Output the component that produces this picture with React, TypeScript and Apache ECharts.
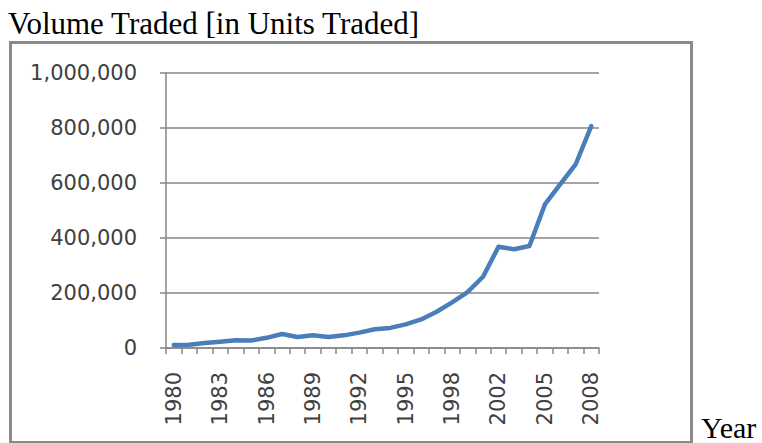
import React, { useEffect, useRef } from "react";
import * as echarts from "echarts";

const years: string[] = [
  "1980", "1981", "1982", "1983", "1984", "1985", "1986", "1987", "1988", "1989",
  "1990", "1991", "1992", "1993", "1994", "1995", "1996", "1997", "1998", "1999",
  "2000", "2002", "2003", "2004", "2005", "2006", "2007", "2008",
];
const volume: number[] = [
  11000, 12000, 18000, 23000, 28000, 27000, 37000, 51000, 40000, 46000,
  40000, 46000, 56000, 68000, 73000, 86000, 104000, 132000, 166000, 203000,
  259000, 368000, 359000, 371000, 522000, 596000, 669000, 807000,
];
const titleText = "Volume Traded [in Units Traded]";
const xName = "Year";

export default function App() {
  const ref = useRef<HTMLDivElement>(null);
  useEffect(() => {
    if (!ref.current) return;
    const chart = echarts.init(ref.current, null, { renderer: "svg" });
    const labelFont = {
      fontFamily: "DejaVu Sans",
      fontSize: 21,
      color: "#404040",
    };
    chart.setOption({
      animation: false,
      backgroundColor: "#ffffff",
      graphic: [
        {
          type: "rect",
          shape: { x: 10.5, y: 42.5, width: 681, height: 400 },
          style: { fill: "#ffffff", stroke: "#8a8a8a", lineWidth: 3 },
          z: -10,
          silent: true,
        },
        {
          type: "text",
          x: 8,
          y: 39,
          style: {
            text: titleText,
            font: "31px 'Liberation Serif', 'Times New Roman', serif",
            fill: "#000000",
            verticalAlign: "bottom",
          },
        },
        {
          type: "text",
          x: 701,
          y: 442,
          style: {
            text: xName,
            font: "30px 'Liberation Serif', 'Times New Roman', serif",
            fill: "#000000",
            verticalAlign: "bottom",
          },
        },
      ],
      grid: { left: 166, right: 163, top: 73, bottom: 95, containLabel: false },
      xAxis: {
        type: "category",
        data: years,
        boundaryGap: true,
        axisLine: { show: true, lineStyle: { color: "#868686", width: 1.5 } },
        axisTick: { show: true, interval: 0, length: 6, lineStyle: { color: "#868686", width: 1.5 } },
        axisLabel: { ...labelFont, rotate: 90, interval: 2, margin: 24 },
        splitLine: { show: false },
      },
      yAxis: {
        type: "value",
        min: 0,
        max: 1000000,
        interval: 200000,
        axisLine: { show: true, lineStyle: { color: "#868686", width: 1.5 } },
        axisTick: { show: true, length: 6, lineStyle: { color: "#868686", width: 1.5 } },
        axisLabel: {
          ...labelFont,
          margin: 29,
          formatter: (v: number) => v.toLocaleString("en-US"),
        },
        splitLine: { show: true, lineStyle: { color: "#868686", width: 1.5 } },
      },
      series: [
        {
          type: "line",
          data: volume,
          showSymbol: false,
          symbol: "none",
          lineStyle: { color: "#4a7ebb", width: 4.5, join: "round", cap: "round" },
        },
      ],
    });
    return () => chart.dispose();
  }, []);
  return (
    <div
      ref={ref}
      style={{ position: "fixed", left: 0, top: 0, width: 762, height: 443 }}
    />
  );
}
